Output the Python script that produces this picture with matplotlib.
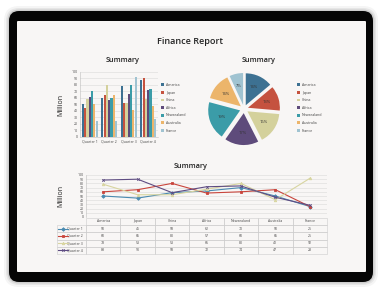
import matplotlib
matplotlib.use("Agg")
import matplotlib.pyplot as plt
from matplotlib.patches import FancyBboxPatch
import numpy as np

# data
countries = ["America", "Japan", "China", "Africa", "Newzealand", "Australia", "France"]
quarters = ["Quarter 1", "Quarter 2", "Quarter 3", "Quarter 4"]
q1 = [50, 45, 58, 62, 70, 50, 25]
q2 = [60, 65, 80, 57, 60, 65, 25]
q3 = [78, 53, 53, 66, 80, 41, 92]
q4 = [88, 90, 58, 72, 74, 47, 28]
pie_values = q1
y_ticks = list(range(0, 101, 10))

# styles
country_colors = ["#3d7192", "#c5523f", "#d4d19c", "#5e4b7b", "#3b9ca8", "#ecb56b", "#a0c3d1"]
quarter_colors = ["#4a8ab0", "#c9453c", "#d8d5a0", "#5e4c82"]
quarter_markers = ["D", "s", "^", "x"]
grid_c = "#dadada"
text_c = "#444444"

plt.rcParams["font.family"] = ["Open Sans", "DejaVu Sans"]

W, H = 391, 299
fig = plt.figure(figsize=(W / 100, H / 100), dpi=100)
fig.patch.set_facecolor("white")


def px(x, y, w, h):
    # pixel box (top-left origin) -> figure fraction
    return [x / W, 1 - (y + h) / H, w / W, h / H]


# tablet frame in pixel coordinates
bg = fig.add_axes([0, 0, 1, 1])
bg.set_xlim(0, W)
bg.set_ylim(H, 0)
bg.axis("off")
for grow, a in [(5, 0.04), (3, 0.06), (1.5, 0.1)]:
    bg.add_patch(FancyBboxPatch((9 - grow, 11 - grow), 364 + 2 * grow, 271 + 2 * grow,
                                boxstyle="round,pad=0,rounding_size=%g" % (10 + grow),
                                fc="#000000", ec="none", alpha=a))
bg.add_patch(FancyBboxPatch((9, 11), 364, 271, boxstyle="round,pad=0,rounding_size=10",
                            fc="#050505", ec="none"))
bg.add_patch(FancyBboxPatch((17, 21), 349, 251, boxstyle="round,pad=0,rounding_size=1",
                            fc="#f8f6f5", ec="none"))

fig.text(190 / W, 1 - 41 / H, "Finance Report", ha="center", va="center",
         fontsize=6.5, weight="semibold", color="#222222")
for tx, ty in [(123, 61), (259, 61), (191, 166)]:
    fig.text(tx / W, 1 - ty / H, "Summary", ha="center", va="center",
             fontsize=5.2, weight="semibold", color="#222222")


def style_axis(ax):
    ax.set_facecolor("none")
    ax.set_ylim(0, 100)
    ax.set_yticks(y_ticks)
    ax.grid(axis="y", color=grid_c, lw=0.4)
    ax.set_axisbelow(True)
    for s in ["top", "right", "bottom"]:
        ax.spines[s].set_visible(False)
    ax.spines["left"].set_color("#bdbdbd")
    ax.spines["left"].set_linewidth(0.4)
    ax.tick_params(labelsize=2.5, length=0, colors=text_c, pad=1.8)


# bar chart
axb = fig.add_axes(px(80, 72, 78, 65))
data = np.array([q1, q2, q3, q4])
xq = np.arange(len(quarters))
bw = 0.118
for i, c in enumerate(countries):
    axb.bar(xq + (i - 3) * bw, data[:, i], width=bw * 0.92, color=country_colors[i],
            label=c, zorder=3)
style_axis(axb)
axb.set_xlim(-0.5, 3.5)
axb.set_xticks(xq, quarters)
axb.spines["bottom"].set_visible(True)
axb.spines["bottom"].set_color("#bdbdbd")
axb.spines["bottom"].set_linewidth(0.4)
axb.set_ylabel("Million", fontsize=5, color="#222222")
axb.yaxis.set_label_coords(-0.205, 0.5)
axb.legend(loc="upper left", bbox_to_anchor=(161 / W, 1 - 83 / H), bbox_transform=fig.transFigure,
           frameon=False, fontsize=2.6, handlelength=0.8, handleheight=0.8,
           handletextpad=0.6, labelspacing=1.0, borderpad=0, borderaxespad=0,
           labelcolor=text_c)

# pie chart
axp = fig.add_axes(px(207, 72, 74, 74))
wedges, texts, autotexts = axp.pie(
    pie_values, colors=country_colors, startangle=90, counterclock=False,
    explode=[0.13] * len(pie_values), autopct=lambda p: "%d%%" % int(p + 0.5),
    pctdistance=0.62, textprops=dict(fontsize=3, color="#333333"),
    wedgeprops=dict(lw=0))
axp.set_xlim(-1.16, 1.16)
axp.set_ylim(-1.16, 1.16)
axp.set_aspect("equal")
axp.legend(wedges, countries, loc="upper left", bbox_to_anchor=(297 / W, 1 - 83 / H),
           bbox_transform=fig.transFigure, frameon=False, fontsize=2.6,
           handlelength=0.8, handleheight=0.8, handletextpad=0.6, labelspacing=1.0,
           borderpad=0, borderaxespad=0, labelcolor=text_c)

# line chart with data table
axl = fig.add_axes(px(86, 175, 241, 42))
xs = np.arange(len(countries))
series = [q1, q2, q3, q4]
for vals, col, mk in zip(series, quarter_colors, quarter_markers):
    axl.plot(xs, vals, color=col, lw=0.8, marker=mk, ms=1.8, mew=0.6, zorder=3)
style_axis(axl)
axl.set_xlim(-0.5, len(countries) - 0.5)
axl.set_xticks([])
axl.set_ylabel("Million", fontsize=5, color="#222222")
axl.yaxis.set_label_coords(-0.091, 0.5)

cell_text = [[str(v) for v in row] for row in series]
tb_top, tb_h, rl_w = -0.02, 0.86, 0.12
# bbox covers the data columns; the row label column hangs off to the left
tbl = axl.table(cellText=cell_text, colLabels=countries,
                colWidths=[1 / len(countries)] * len(countries),
                cellLoc="center", bbox=[0, tb_top - tb_h, 1, tb_h])
cell_h = tbl[1, 0].get_height()
for r, q in enumerate(quarters):
    tbl.add_cell(r + 1, -1, width=rl_w, height=cell_h, text=q, loc="right")
tbl.auto_set_font_size(False)
tbl.set_fontsize(2.5)
for cell in tbl.get_celld().values():
    cell.set_edgecolor("#cccccc")
    cell.set_linewidth(0.4)
    cell.set_facecolor("none")
    cell.get_text().set_color(text_c)

# legend keys drawn inside the row label cells
row_h = tb_h / (len(series) + 1)
for r, (col, mk) in enumerate(zip(quarter_colors, quarter_markers)):
    yk = tb_top - row_h * (r + 1.5)
    axl.plot([-0.116, -0.075], [yk, yk], transform=axl.transAxes, clip_on=False,
             color=col, lw=0.8)
    axl.plot([-0.0955], [yk], transform=axl.transAxes, clip_on=False,
             color=col, marker=mk, ms=1.8, mew=0.6)

fig.savefig("out.png", dpi=100)
